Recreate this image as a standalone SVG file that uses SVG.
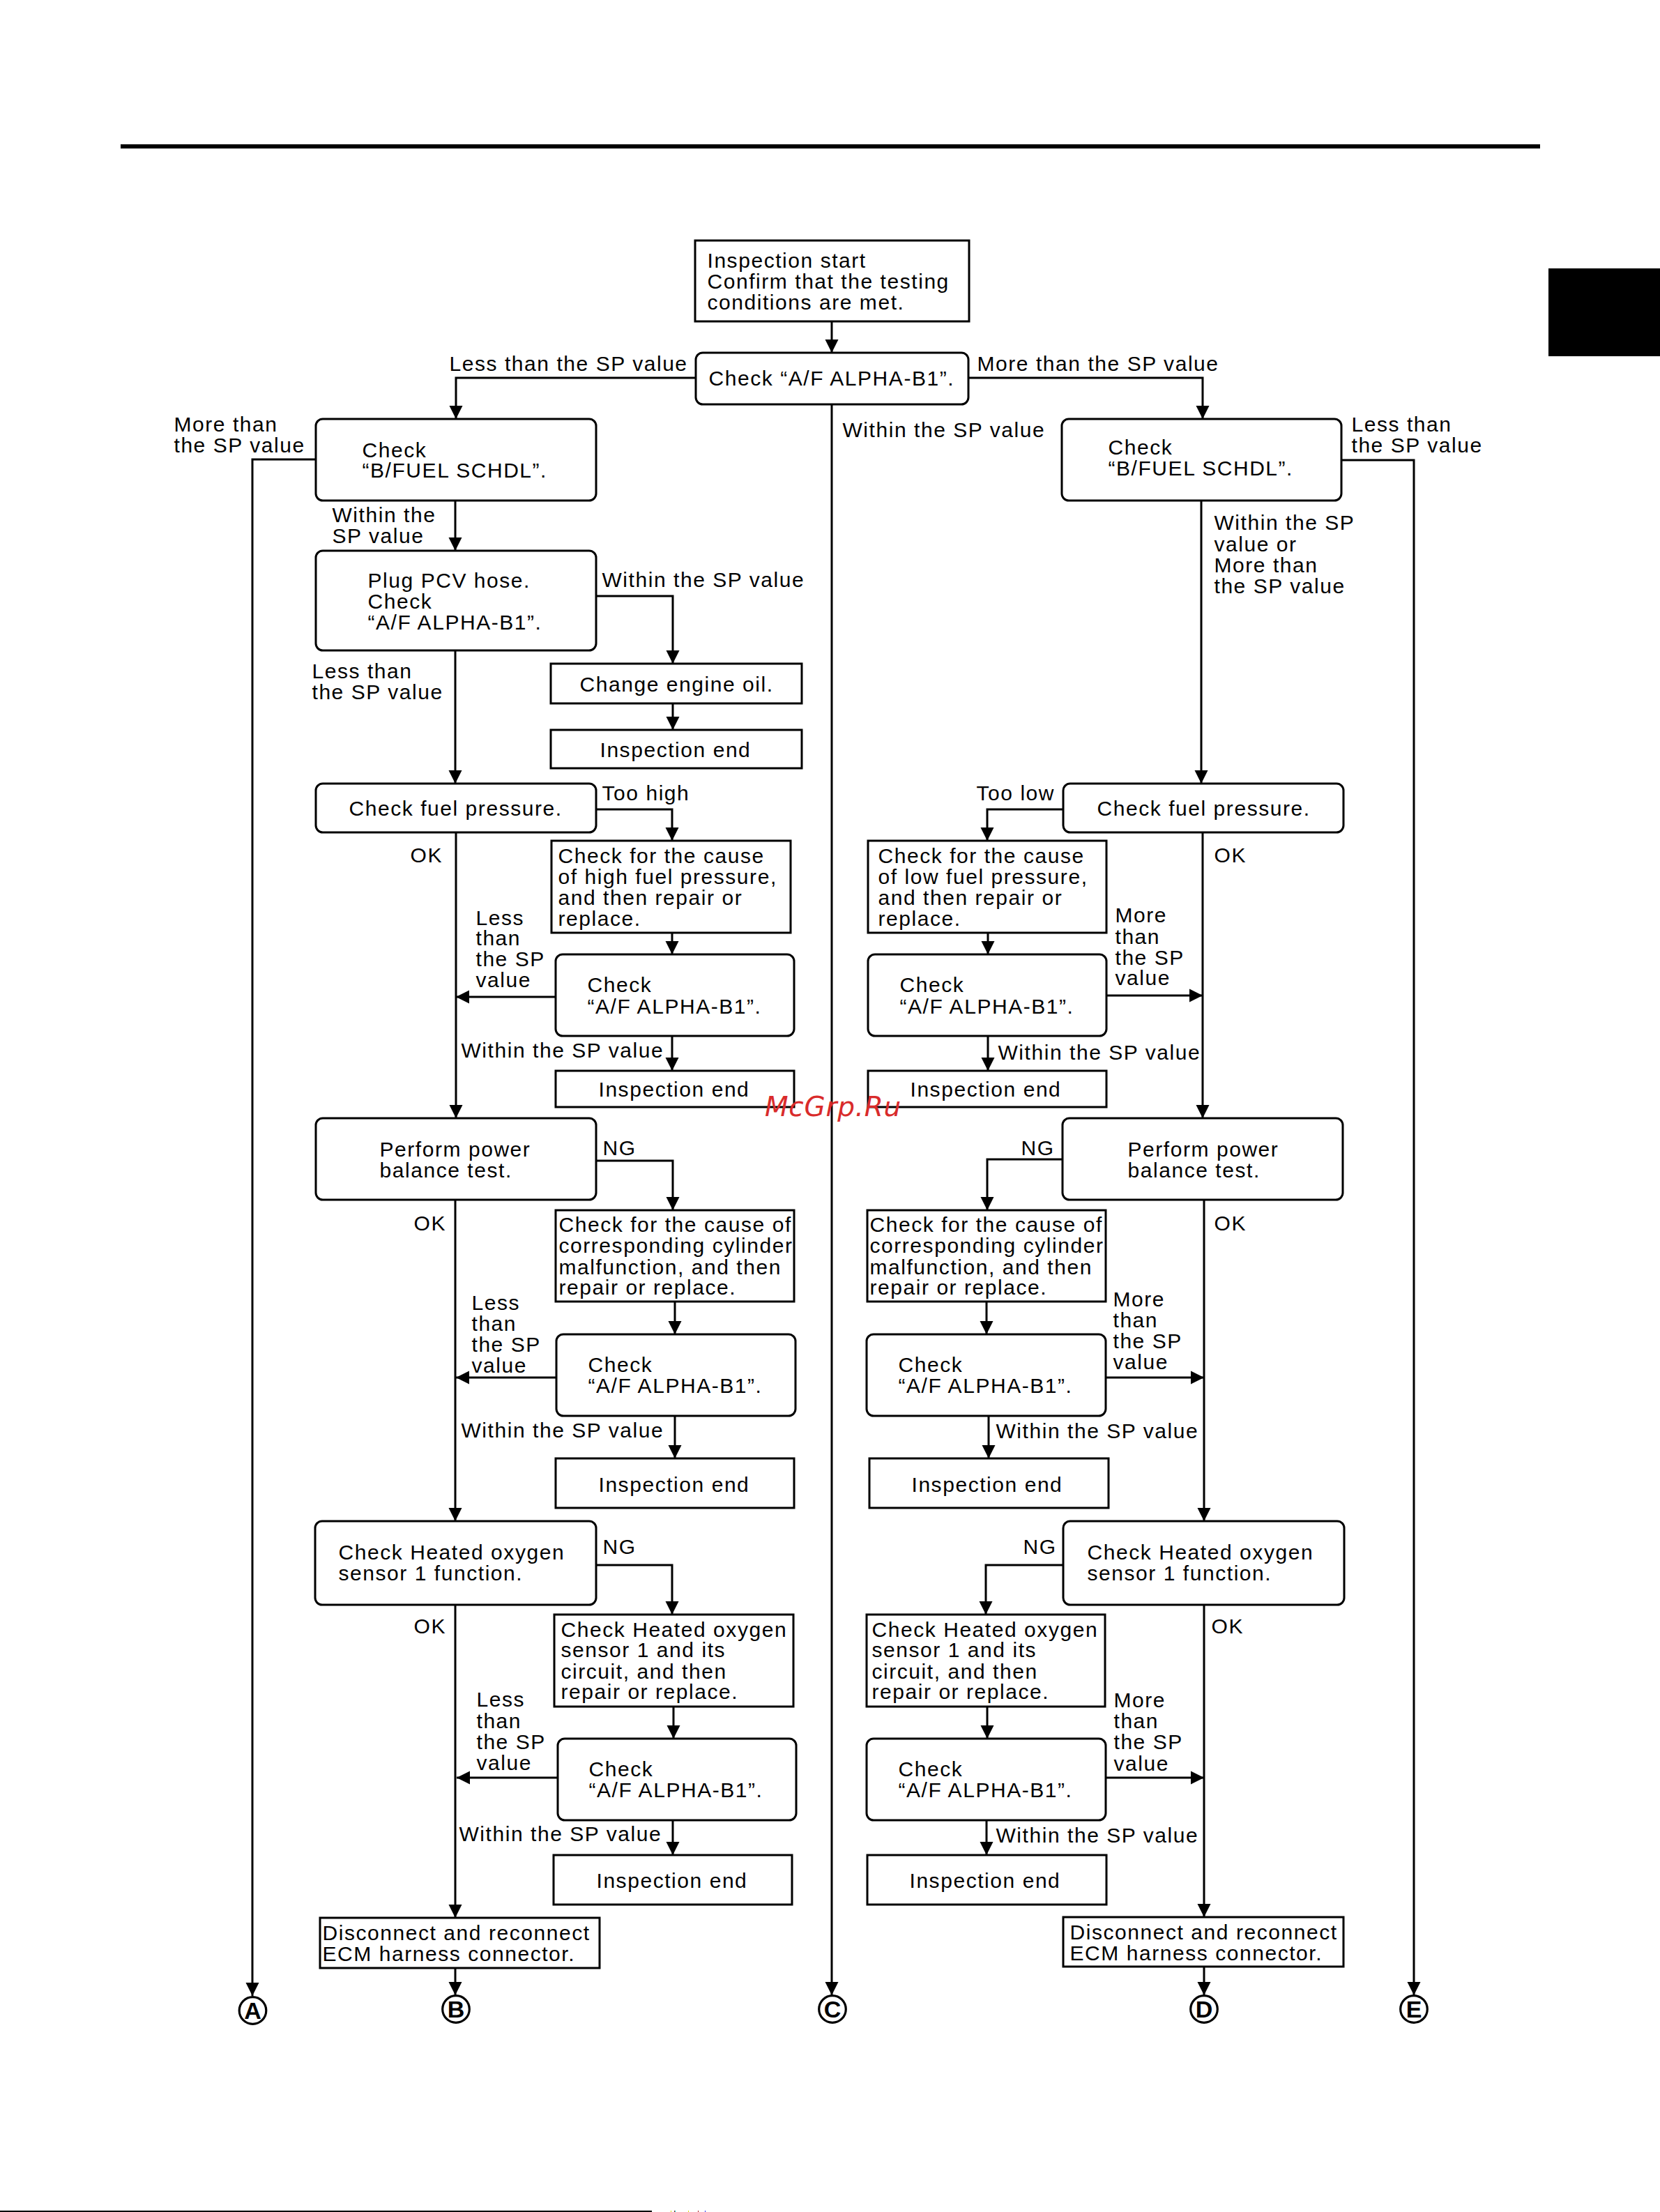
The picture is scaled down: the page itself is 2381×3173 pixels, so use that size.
<svg xmlns="http://www.w3.org/2000/svg" width="2381" height="3173" viewBox="0 0 2381 3173">
<style>
text{font-family:"Liberation Sans",Arial,sans-serif;font-size:30px;letter-spacing:1.55px;fill:#000;transform:translateX(-1.5px)}
.b{fill:#fff;stroke:#000;stroke-width:3}
.c{fill:none;stroke:#000;stroke-width:3;marker-end:url(#a)}
.ring{fill:#fff;stroke:#000;stroke-width:3.2}
text.l{font-weight:bold;font-size:34px;letter-spacing:0;text-anchor:middle;transform:none}
text.wm{font-family:"DejaVu Sans",sans-serif;font-style:italic;font-size:39px;letter-spacing:.7px;fill:#d92b2b;transform:none}
</style>
<defs><marker id="a" markerUnits="userSpaceOnUse" markerWidth="20" markerHeight="20" refX="19" refY="10" orient="auto"><path d="M0,0.5L19,10L0,19.5z" fill="#000"/></marker></defs>
<rect width="2381" height="3173" fill="#fff"/>
<g id="page-marks">
<rect x="173" y="207" width="2036" height="6" fill="#000"/>
<rect x="2221" y="385" width="160" height="126" fill="#000"/>
<rect x="0" y="3171" width="935" height="2" fill="#000"/>
<rect x="962" y="3171" width="1" height="2" fill="#dd0"/><rect x="967" y="3171" width="1" height="2" fill="#a22"/><rect x="968" y="3171" width="1" height="2" fill="#0cc"/><rect x="987" y="3171" width="1" height="2" fill="#dd0"/><rect x="1001" y="3171" width="1" height="2" fill="#a22"/><rect x="1011" y="3171" width="1" height="2" fill="#33e"/>
</g>
<g id="connectors">
<path class="c" d="M1193,461V506"/>
<path class="c" d="M998,542H654V601"/>
<path class="c" d="M1389,542H1725V601"/>
<path class="c" d="M1193,580V2862"/>
<path class="c" d="M453,659H362V2863"/>
<path class="c" d="M653,718V790"/>
<path class="c" d="M855,855H965V952"/>
<path class="c" d="M965,1009V1047"/>
<path class="c" d="M653,933V1124"/>
<path class="c" d="M1924,660H2028V2862"/>
<path class="c" d="M1723,718V1124"/>
<path class="c" d="M855,1161H964V1206"/>
<path class="c" d="M964,1338V1369"/>
<path class="c" d="M797,1430H654"/>
<path class="c" d="M964,1486V1536"/>
<path class="c" d="M654,1194V1604"/>
<path class="c" d="M855,1665H965V1736"/>
<path class="c" d="M968,1867V1914"/>
<path class="c" d="M798,1976H654"/>
<path class="c" d="M968,2031V2092"/>
<path class="c" d="M653,1721V2182"/>
<path class="c" d="M855,2245H964V2316"/>
<path class="c" d="M966,2448V2494"/>
<path class="c" d="M800,2550H655"/>
<path class="c" d="M965,2611V2661"/>
<path class="c" d="M653,2302V2751"/>
<path class="c" d="M653,2823V2862"/>
<path class="c" d="M1525,1161H1416V1206"/>
<path class="c" d="M1417,1338V1369"/>
<path class="c" d="M1587,1428H1725"/>
<path class="c" d="M1417,1486V1536"/>
<path class="c" d="M1725,1194V1604"/>
<path class="c" d="M1524,1663H1416V1736"/>
<path class="c" d="M1415,1867V1914"/>
<path class="c" d="M1586,1976H1727"/>
<path class="c" d="M1418,2031V2092"/>
<path class="c" d="M1727,1721V2182"/>
<path class="c" d="M1525,2245H1414V2316"/>
<path class="c" d="M1416,2448V2494"/>
<path class="c" d="M1586,2550H1727"/>
<path class="c" d="M1415,2611V2661"/>
<path class="c" d="M1727,2302V2750"/>
<path class="c" d="M1727,2821V2862"/>
</g>
<g id="labels">
<text x="646" y="532">Less than the SP value</text>
<text x="1403" y="532">More than the SP value</text>
<text x="1210" y="627">Within the SP value</text>
<text><tspan x="251" y="619">More than</tspan><tspan x="251" y="649">the SP value</tspan></text>
<text><tspan x="1940" y="619">Less than</tspan><tspan x="1940" y="649">the SP value</tspan></text>
<text><tspan x="478" y="749">Within the</tspan><tspan x="478" y="779">SP value</tspan></text>
<text x="865" y="842">Within the SP value</text>
<text><tspan x="1743" y="760">Within the SP</tspan><tspan x="1743" y="791">value or</tspan><tspan x="1743" y="821">More than</tspan><tspan x="1743" y="851">the SP value</tspan></text>
<text><tspan x="449" y="973">Less than</tspan><tspan x="449" y="1003">the SP value</tspan></text>
<text x="865" y="1148">Too high</text>
<text x="1402" y="1148">Too low</text>
<text x="590" y="1237">OK</text>
<text x="1743" y="1237">OK</text>
<text><tspan x="684" y="1327">Less</tspan><tspan x="684" y="1356">than</tspan><tspan x="684" y="1386">the SP</tspan><tspan x="684" y="1416">value</tspan></text>
<text><tspan x="1601" y="1323">More</tspan><tspan x="1601" y="1354">than</tspan><tspan x="1601" y="1384">the SP</tspan><tspan x="1601" y="1413">value</tspan></text>
<text x="663" y="1517">Within the SP value</text>
<text x="1433" y="1520">Within the SP value</text>
<text x="866" y="1657">NG</text>
<text x="1466" y="1657">NG</text>
<text x="595" y="1765">OK</text>
<text x="1743" y="1765">OK</text>
<text><tspan x="678" y="1879">Less</tspan><tspan x="678" y="1909">than</tspan><tspan x="678" y="1939">the SP</tspan><tspan x="678" y="1969">value</tspan></text>
<text><tspan x="1598" y="1874">More</tspan><tspan x="1598" y="1904">than</tspan><tspan x="1598" y="1934">the SP</tspan><tspan x="1598" y="1964">value</tspan></text>
<text x="663" y="2062">Within the SP value</text>
<text x="1430" y="2063">Within the SP value</text>
<text x="866" y="2229">NG</text>
<text x="1469" y="2229">NG</text>
<text x="595" y="2343">OK</text>
<text x="1739" y="2343">OK</text>
<text><tspan x="685" y="2448">Less</tspan><tspan x="685" y="2479">than</tspan><tspan x="685" y="2509">the SP</tspan><tspan x="685" y="2539">value</tspan></text>
<text><tspan x="1599" y="2449">More</tspan><tspan x="1599" y="2479">than</tspan><tspan x="1599" y="2509">the SP</tspan><tspan x="1599" y="2540">value</tspan></text>
<text x="660" y="2641">Within the SP value</text>
<text x="1430" y="2643">Within the SP value</text>
</g>
<g id="n-start"><rect class="b" x="997" y="345" width="393" height="116"/><text><tspan x="1016" y="384">Inspection start</tspan><tspan x="1016" y="414">Confirm that the testing</tspan><tspan x="1016" y="444">conditions are met.</tspan></text></g>
<g id="n-af-main"><rect class="b" x="998" y="506" width="391" height="74" rx="10"/><text x="1018" y="553">Check “A/F ALPHA-B1”.</text></g>
<g id="n-fuel-l"><rect class="b" x="453" y="601" width="402" height="117" rx="10"/><text><tspan x="521" y="656">Check</tspan><tspan x="521" y="685">“B/FUEL SCHDL”.</tspan></text></g>
<g id="n-fuel-r"><rect class="b" x="1523" y="601" width="401" height="117" rx="10"/><text><tspan x="1591" y="652">Check</tspan><tspan x="1591" y="682">“B/FUEL SCHDL”.</tspan></text></g>
<g id="n-pcv"><rect class="b" x="453" y="790" width="402" height="143" rx="10"/><text><tspan x="529" y="843">Plug PCV hose.</tspan><tspan x="529" y="873">Check</tspan><tspan x="529" y="903">“A/F ALPHA-B1”.</tspan></text></g>
<g id="n-oil"><rect class="b" x="790" y="952" width="360" height="57"/><text x="833" y="992">Change engine oil.</text></g>
<g id="n-end-0"><rect class="b" x="790" y="1047" width="360" height="55"/><text x="862" y="1086">Inspection end</text></g>
<g id="n-press-l"><rect class="b" x="453" y="1124" width="402" height="70" rx="10"/><text x="502" y="1170">Check fuel pressure.</text></g>
<g id="n-press-r"><rect class="b" x="1525" y="1124" width="402" height="70" rx="10"/><text x="1575" y="1170">Check fuel pressure.</text></g>
<g id="n-high"><rect class="b" x="791" y="1206" width="343" height="132"/><text><tspan x="802" y="1238">Check for the cause</tspan><tspan x="802" y="1268">of high fuel pressure,</tspan><tspan x="802" y="1298">and then repair or</tspan><tspan x="802" y="1328">replace.</tspan></text></g>
<g id="n-low"><rect class="b" x="1245" y="1206" width="342" height="132"/><text><tspan x="1261" y="1238">Check for the cause</tspan><tspan x="1261" y="1268">of low fuel pressure,</tspan><tspan x="1261" y="1298">and then repair or</tspan><tspan x="1261" y="1328">replace.</tspan></text></g>
<g id="n-af-1l"><rect class="b" x="797" y="1369" width="342" height="117" rx="10"/><text><tspan x="844" y="1423">Check</tspan><tspan x="844" y="1454">“A/F ALPHA-B1”.</tspan></text></g>
<g id="n-af-1r"><rect class="b" x="1245" y="1369" width="342" height="117" rx="10"/><text><tspan x="1292" y="1423">Check</tspan><tspan x="1292" y="1454">“A/F ALPHA-B1”.</tspan></text></g>
<g id="n-end-1l"><rect class="b" x="797" y="1536" width="342" height="52"/><text x="860" y="1573">Inspection end</text></g>
<g id="n-end-1r"><rect class="b" x="1245" y="1536" width="342" height="52"/><text x="1307" y="1573">Inspection end</text></g>
<g id="n-power-l"><rect class="b" x="453" y="1604" width="402" height="117" rx="10"/><text><tspan x="546" y="1659">Perform power</tspan><tspan x="546" y="1689">balance test.</tspan></text></g>
<g id="n-power-r"><rect class="b" x="1524" y="1604" width="402" height="117" rx="10"/><text><tspan x="1619" y="1659">Perform power</tspan><tspan x="1619" y="1689">balance test.</tspan></text></g>
<g id="n-cyl-l"><rect class="b" x="797" y="1736" width="342" height="131"/><text><tspan x="803" y="1767">Check for the cause of</tspan><tspan x="803" y="1797">corresponding cylinder</tspan><tspan x="803" y="1828">malfunction, and then</tspan><tspan x="803" y="1857">repair or replace.</tspan></text></g>
<g id="n-cyl-r"><rect class="b" x="1244" y="1736" width="342" height="131"/><text><tspan x="1249" y="1767">Check for the cause of</tspan><tspan x="1249" y="1797">corresponding cylinder</tspan><tspan x="1249" y="1828">malfunction, and then</tspan><tspan x="1249" y="1857">repair or replace.</tspan></text></g>
<g id="n-af-2l"><rect class="b" x="798" y="1914" width="343" height="117" rx="10"/><text><tspan x="845" y="1968">Check</tspan><tspan x="845" y="1998">“A/F ALPHA-B1”.</tspan></text></g>
<g id="n-af-2r"><rect class="b" x="1243" y="1914" width="343" height="117" rx="10"/><text><tspan x="1290" y="1968">Check</tspan><tspan x="1290" y="1998">“A/F ALPHA-B1”.</tspan></text></g>
<g id="n-end-2l"><rect class="b" x="797" y="2092" width="342" height="71"/><text x="860" y="2140">Inspection end</text></g>
<g id="n-end-2r"><rect class="b" x="1247" y="2092" width="343" height="71"/><text x="1309" y="2140">Inspection end</text></g>
<g id="n-o2-l"><rect class="b" x="452" y="2182" width="403" height="120" rx="10"/><text><tspan x="487" y="2237">Check Heated oxygen</tspan><tspan x="487" y="2267">sensor 1 function.</tspan></text></g>
<g id="n-o2-r"><rect class="b" x="1525" y="2182" width="403" height="120" rx="10"/><text><tspan x="1561" y="2237">Check Heated oxygen</tspan><tspan x="1561" y="2267">sensor 1 function.</tspan></text></g>
<g id="n-circ-l"><rect class="b" x="795" y="2316" width="343" height="132"/><text><tspan x="806" y="2348">Check Heated oxygen</tspan><tspan x="806" y="2377">sensor 1 and its</tspan><tspan x="806" y="2408">circuit, and then</tspan><tspan x="806" y="2437">repair or replace.</tspan></text></g>
<g id="n-circ-r"><rect class="b" x="1243" y="2316" width="342" height="132"/><text><tspan x="1252" y="2348">Check Heated oxygen</tspan><tspan x="1252" y="2377">sensor 1 and its</tspan><tspan x="1252" y="2408">circuit, and then</tspan><tspan x="1252" y="2437">repair or replace.</tspan></text></g>
<g id="n-af-3l"><rect class="b" x="800" y="2494" width="342" height="117" rx="10"/><text><tspan x="846" y="2548">Check</tspan><tspan x="846" y="2578">“A/F ALPHA-B1”.</tspan></text></g>
<g id="n-af-3r"><rect class="b" x="1243" y="2494" width="343" height="117" rx="10"/><text><tspan x="1290" y="2548">Check</tspan><tspan x="1290" y="2578">“A/F ALPHA-B1”.</tspan></text></g>
<g id="n-end-3l"><rect class="b" x="794" y="2661" width="342" height="71"/><text x="857" y="2708">Inspection end</text></g>
<g id="n-end-3r"><rect class="b" x="1244" y="2661" width="343" height="71"/><text x="1306" y="2708">Inspection end</text></g>
<g id="n-ecm-l"><rect class="b" x="459" y="2751" width="401" height="72"/><text><tspan x="464" y="2783">Disconnect and reconnect</tspan><tspan x="464" y="2813">ECM harness connector.</tspan></text></g>
<g id="n-ecm-r"><rect class="b" x="1525" y="2750" width="402" height="71"/><text><tspan x="1536" y="2782">Disconnect and reconnect</tspan><tspan x="1536" y="2812">ECM harness connector.</tspan></text></g>
<g id="off-a"><circle class="ring" cx="362.5" cy="2884" r="19.3"/><text class="l" x="362.5" y="2896">A</text></g>
<g id="off-b"><circle class="ring" cx="654" cy="2882" r="19.3"/><text class="l" x="654" y="2894">B</text></g>
<g id="off-c"><circle class="ring" cx="1194" cy="2882" r="19.3"/><text class="l" x="1194" y="2894">C</text></g>
<g id="off-d"><circle class="ring" cx="1727" cy="2882" r="19.3"/><text class="l" x="1727" y="2894">D</text></g>
<g id="off-e"><circle class="ring" cx="2028" cy="2882" r="19.3"/><text class="l" x="2028" y="2894">E</text></g>
<text class="wm" x="1097" y="1601">McGrp.Ru</text>
</svg>
